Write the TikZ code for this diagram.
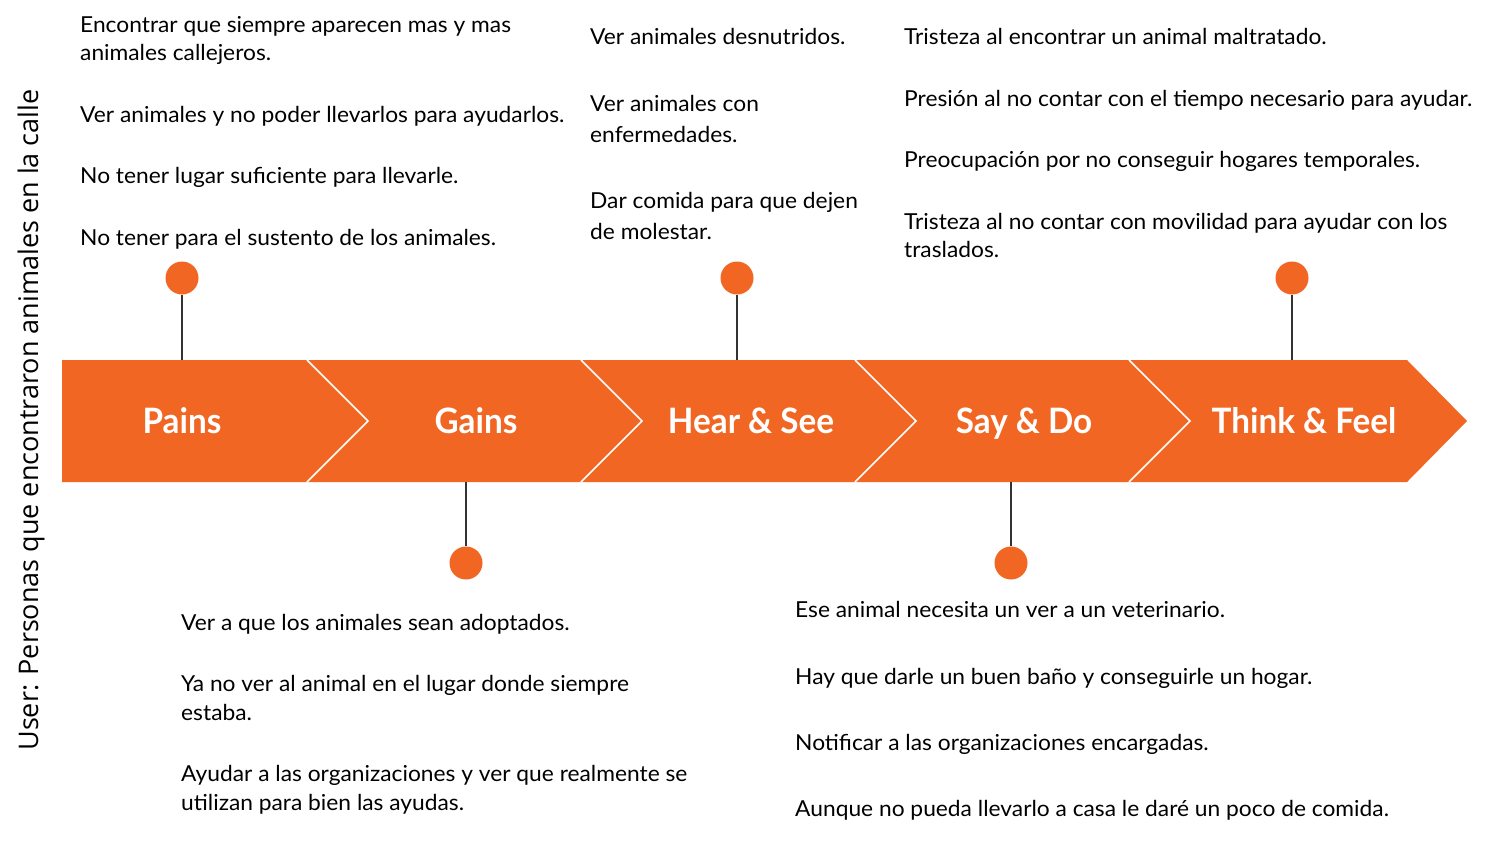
\documentclass[tikz,border=0pt]{standalone}
\usepackage{fontspec}
\setmainfont{Lato}[FakeStretch=1.035]
\newfontfamily\stagefont{Lato Bold}[FakeStretch=0.95]
\newfontfamily\userfont{Open Sans}
\definecolor{brandorange}{HTML}{F26624}
\definecolor{stemgray}{HTML}{333333}
\begin{document}
\begin{tikzpicture}[x=1pt,y=-1pt,
  body/.style={anchor=north west, inner sep=0pt, align=left, text=black},
  bs28/.style={font=\fontsize{22}{28}\selectfont},
  bs29/.style={font=\fontsize{22}{29.5}\selectfont},
  bs31/.style={font=\fontsize{22}{31.5}\selectfont},
  stage/.style={text=white, font=\stagefont\fontsize{35}{40}\selectfont, inner sep=0pt, anchor=base},
  dot/.style={circle, fill=brandorange, minimum size=33pt, inner sep=0pt},
  stem/.style={draw=stemgray, line width=1.4pt},
  chev/.style={draw=white, line width=1.6pt}
]
\useasboundingbox (0,0) rectangle (1510,844);
\fill[white] (0,0) rectangle (1510,844);

% band
\fill[brandorange] (62,360) -- (1407,360) -- (1467,421) -- (1407,482) -- (62,482) -- cycle;
\foreach \xx in {307,581,855,1129}{
  \draw[chev] (\xx,360) -- (\xx+61,421) -- (\xx,482);
}

% stage labels
\node[stage] (pains) at (182,433.5) {Pains};
\node[stage] (gains) at (476,433.5) {Gains};
\node[stage] (hear) at (751,433.5) {Hear \& See};
\node[stage] (say) at (1024,433.5) {Say \& Do};
\node[stage] (think) at (1304,433.5) {Think \& Feel};

% dots and stems
\node[dot] (d1) at (182,278) {};
\node[dot] (d2) at (466,563) {};
\node[dot] (d3) at (737,278) {};
\node[dot] (d4) at (1011,563) {};
\node[dot] (d5) at (1292,278) {};
\coordinate (e1) at (182,360);
\coordinate (e2) at (466,482);
\coordinate (e3) at (737,360);
\coordinate (e4) at (1011,482);
\coordinate (e5) at (1292,360);
\draw[stem] (d1.south) -- (e1);
\draw[stem] (d2.north) -- (e2);
\draw[stem] (d3.south) -- (e3);
\draw[stem] (d4.north) -- (e4);
\draw[stem] (d5.south) -- (e5);

% vertical user label
\node[rotate=90, inner sep=0pt, font=\userfont\fontsize{27}{30}\selectfont] (user) at (31,420) {User: Personas que encontraron animales en la calle};

% Pains texts
\node[body,bs28] (p1) at (80,12.4) {\strut Encontrar que siempre aparecen mas y mas\\animales callejeros.};
\node[body,bs28] (p2) at (80,102.4) {\strut Ver animales y no poder llevarlos para ayudarlos.};
\node[body,bs28] (p3) at (80,163.4) {\strut No tener lugar suficiente para llevarle.};
\node[body,bs28] (p4) at (80,225.4) {\strut No tener para el sustento de los animales.};

% Hear & See texts
\node[body,bs31] (h1) at (590,22) {\strut Ver animales desnutridos.};
\node[body,bs31] (h2) at (590,89) {\strut Ver animales con\\enfermedades.};
\node[body,bs31] (h3) at (590,186) {\strut Dar comida para que dejen\\de molestar.};

% Think & Feel texts
\node[body,bs28] (t1) at (904,24.4) {\strut Tristeza al encontrar un animal maltratado.};
\node[body,bs28] (t2) at (904,86.4) {\strut Presión al no contar con el tiempo necesario para ayudar.};
\node[body,bs28] (t3) at (904,147.4) {\strut Preocupación por no conseguir hogares temporales.};
\node[body,bs28] (t4) at (904,209.4) {\strut Tristeza al no contar con movilidad para ayudar con los\\traslados.};

% Gains texts
\node[body,bs29] (g1) at (181,609.5) {\strut Ver a que los animales sean adoptados.};
\node[body,bs29] (g2) at (181,670.5) {\strut Ya no ver al animal en el lugar donde siempre\\estaba.};
\node[body,bs29] (g3) at (181,760.5) {\strut Ayudar a las organizaciones y ver que realmente se\\utilizan para bien las ayudas.};

% Say & Do texts
\node[body,bs28] (s1) at (795,597.4) {\strut Ese animal necesita un ver a un veterinario.};
\node[body,bs28] (s2) at (795,664.4) {\strut Hay que darle un buen baño y conseguirle un hogar.};
\node[body,bs28] (s3) at (795,730.4) {\strut Notificar a las organizaciones encargadas.};
\node[body,bs28] (s4) at (795,796.4) {\strut Aunque no pueda llevarlo a casa le daré un poco de comida.};
\end{tikzpicture}
\end{document}
